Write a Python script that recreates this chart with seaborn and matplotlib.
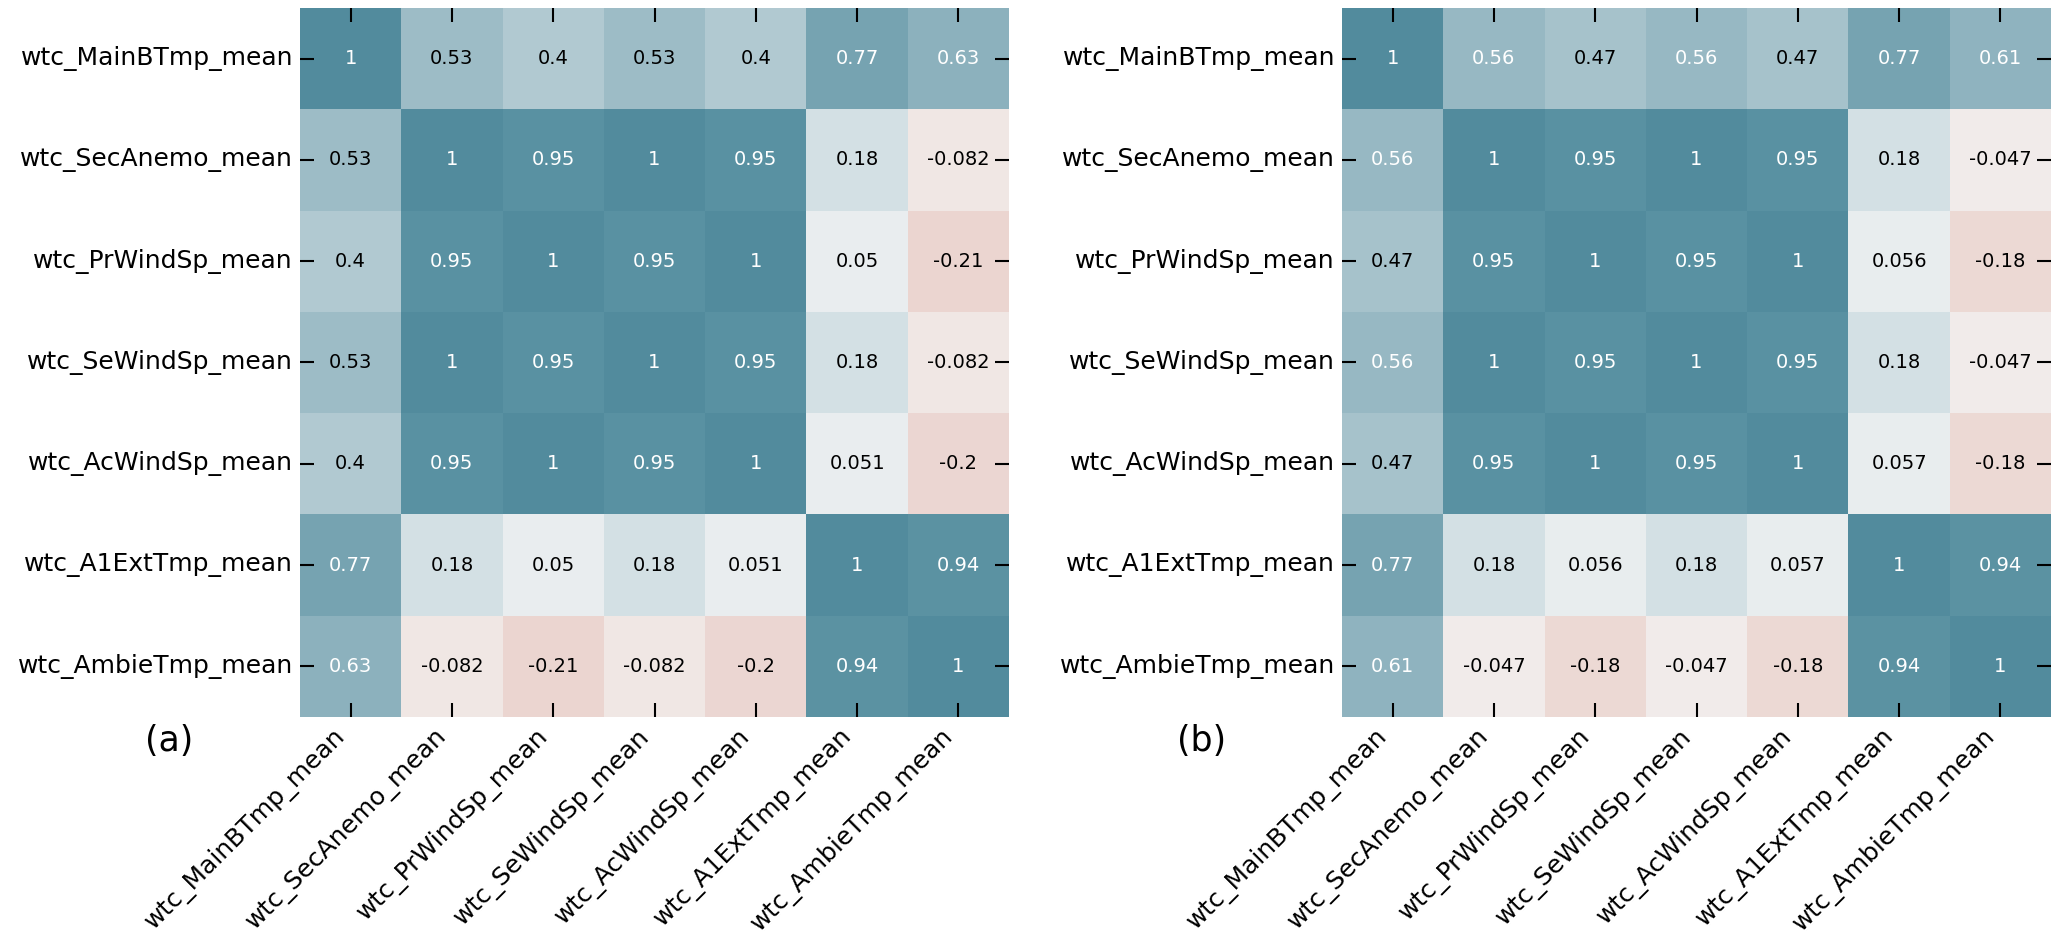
import numpy as np
import pandas as pd
import matplotlib
matplotlib.use("Agg")
import matplotlib.pyplot as plt
import seaborn as sns

labels = ['wtc_MainBTmp_mean', 'wtc_SecAnemo_mean', 'wtc_PrWindSp_mean',
          'wtc_SeWindSp_mean', 'wtc_AcWindSp_mean', 'wtc_A1ExtTmp_mean',
          'wtc_AmbieTmp_mean']

corr_a = [
    [1, 0.53, 0.4, 0.53, 0.4, 0.77, 0.63],
    [0.53, 1, 0.95, 1, 0.95, 0.18, -0.082],
    [0.4, 0.95, 1, 0.95, 1, 0.05, -0.21],
    [0.53, 1, 0.95, 1, 0.95, 0.18, -0.082],
    [0.4, 0.95, 1, 0.95, 1, 0.051, -0.2],
    [0.77, 0.18, 0.05, 0.18, 0.051, 1, 0.94],
    [0.63, -0.082, -0.21, -0.082, -0.2, 0.94, 1],
]

corr_b = [
    [1, 0.56, 0.47, 0.56, 0.47, 0.77, 0.61],
    [0.56, 1, 0.95, 1, 0.95, 0.18, -0.047],
    [0.47, 0.95, 1, 0.95, 1, 0.056, -0.18],
    [0.56, 1, 0.95, 1, 0.95, 0.18, -0.047],
    [0.47, 0.95, 1, 0.95, 1, 0.057, -0.18],
    [0.77, 0.18, 0.056, 0.18, 0.057, 1, 0.94],
    [0.61, -0.047, -0.18, -0.047, -0.18, 0.94, 1],
]

panel_tags = ['(a)', '(b)']

sns.set_style('white')
plt.rcParams['font.family'] = ['DejaVu Sans']
plt.rcParams['text.color'] = 'black'
plt.rcParams['xtick.color'] = 'black'
plt.rcParams['ytick.color'] = 'black'

cmap = sns.diverging_palette(20, 220, as_cmap=True)

fig = plt.figure(figsize=(20.67, 9.47), dpi=100)
W, H = 2067, 947
lefts = [300, 1342]
tag_x = [169, 1202]

for i, data in enumerate([corr_a, corr_b]):
    df = pd.DataFrame(data, index=labels, columns=labels)
    ax = fig.add_axes([lefts[i] / W, 1 - 717 / H, 709 / W, 709 / H])
    sns.heatmap(df, ax=ax, cmap=cmap, vmin=-1, vmax=1, annot=True,
                cbar=False, alpha=0.9, annot_kws={'size': 14})
    # white text on the darker cells
    for txt, val in zip(ax.texts, df.values.ravel()):
        txt.set_color('white' if val >= 0.55 else 'black')
    ax.set_axisbelow(False)
    ax.tick_params(axis='both', which='both', direction='in', length=10,
                   width=1.5, color='black', labelcolor='black',
                   bottom=True, left=True, top=True, right=True,
                   labelsize=18, pad=5)
    ax.set_xticklabels(labels, rotation=45, ha='right')
    ax.set_yticklabels(labels, rotation=0)
    fig.text(tag_x[i] / W, 1 - 741 / H, panel_tags[i], fontsize=25,
             ha='center', va='center')

fig.savefig('out.png', dpi=100)
